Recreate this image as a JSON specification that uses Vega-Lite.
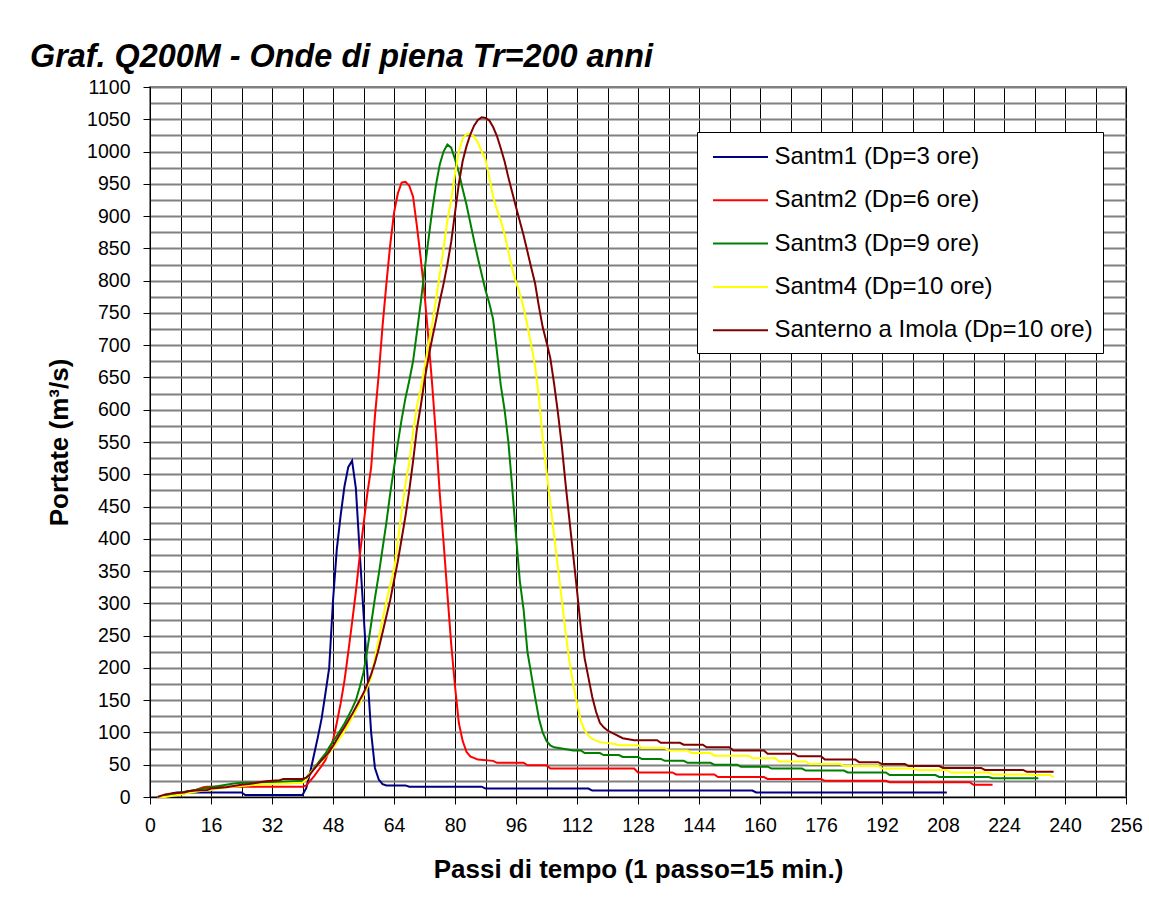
{
  "$schema": "https://vega.github.io/schema/vega-lite/v6.json",
  "autosize": "none",
  "width": 976,
  "height": 710,
  "padding": {"left": 150, "top": 87, "right": 23, "bottom": 124},
  "background": "white",
  "config": {
    "font": "Liberation Sans",
    "view": {"stroke": "#808080", "strokeWidth": 2}
  },
  "title": {
    "text": "Graf. Q200M - Onde di piena Tr=200 anni",
    "anchor": "start",
    "frame": "group",
    "font": "Liberation Sans",
    "fontSize": 32.4,
    "fontStyle": "italic",
    "fontWeight": "bold",
    "color": "black",
    "dx": -120,
    "dy": 40,
    "baseline": "alphabetic",
    "offset": 18
  },
  "data": {
    "values": [
      {"k":1,"x":2,"y":0},{"k":1,"x":4,"y":0},{"k":1,"x":5,"y":3},{"k":1,"x":6,"y":6},{"k":1,"x":7,"y":7},{"k":1,"x":24,"y":7},{"k":1,"x":25,"y":3},{"k":1,"x":40,"y":3},{"k":1,"x":41,"y":14},{"k":1,"x":42,"y":38},{"k":1,"x":43,"y":65},{"k":1,"x":44,"y":92},{"k":1,"x":45,"y":121},{"k":1,"x":46,"y":160},{"k":1,"x":47,"y":200},{"k":1,"x":48,"y":304},{"k":1,"x":49,"y":384},{"k":1,"x":50,"y":436},{"k":1,"x":51,"y":481},{"k":1,"x":52,"y":511},{"k":1,"x":53,"y":521},{"k":1,"x":54,"y":478},{"k":1,"x":55,"y":380},{"k":1,"x":56,"y":285},{"k":1,"x":57,"y":193},{"k":1,"x":58,"y":100},{"k":1,"x":59,"y":45},{"k":1,"x":60,"y":27},{"k":1,"x":61,"y":20},{"k":1,"x":62,"y":18},{"k":1,"x":67,"y":18},{"k":1,"x":68,"y":16},{"k":1,"x":87,"y":16},{"k":1,"x":88,"y":13},{"k":1,"x":115,"y":13},{"k":1,"x":116,"y":10},{"k":1,"x":158,"y":10},{"k":1,"x":159,"y":7},{"k":1,"x":209,"y":7},

      {"k":2,"x":2,"y":0},{"k":2,"x":4,"y":1},{"k":2,"x":6,"y":3},{"k":2,"x":8,"y":6},{"k":2,"x":10,"y":9},{"k":2,"x":12,"y":11},{"k":2,"x":14,"y":15},{"k":2,"x":15,"y":16},{"k":2,"x":40,"y":16},{"k":2,"x":41,"y":18},{"k":2,"x":42,"y":25},{"k":2,"x":43,"y":32},{"k":2,"x":44,"y":40},{"k":2,"x":45,"y":48},{"k":2,"x":46,"y":57},{"k":2,"x":47,"y":72},{"k":2,"x":48,"y":88},{"k":2,"x":49,"y":115},{"k":2,"x":50,"y":145},{"k":2,"x":51,"y":180},{"k":2,"x":52,"y":224},{"k":2,"x":53,"y":270},{"k":2,"x":54,"y":318},{"k":2,"x":55,"y":373},{"k":2,"x":56,"y":422},{"k":2,"x":57,"y":470},{"k":2,"x":58,"y":510},{"k":2,"x":59,"y":590},{"k":2,"x":60,"y":655},{"k":2,"x":61,"y":730},{"k":2,"x":62,"y":795},{"k":2,"x":63,"y":855},{"k":2,"x":64,"y":905},{"k":2,"x":65,"y":935},{"k":2,"x":66,"y":952},{"k":2,"x":67,"y":953},{"k":2,"x":68,"y":947},{"k":2,"x":69,"y":930},{"k":2,"x":70,"y":885},{"k":2,"x":71,"y":835},{"k":2,"x":72,"y":780},{"k":2,"x":73,"y":712},{"k":2,"x":74,"y":640},{"k":2,"x":75,"y":560},{"k":2,"x":76,"y":470},{"k":2,"x":77,"y":395},{"k":2,"x":78,"y":315},{"k":2,"x":79,"y":237},{"k":2,"x":80,"y":172},{"k":2,"x":81,"y":115},{"k":2,"x":82,"y":87},{"k":2,"x":83,"y":70},{"k":2,"x":84,"y":63},{"k":2,"x":86,"y":58},{"k":2,"x":90,"y":56},{"k":2,"x":91,"y":53},{"k":2,"x":98,"y":53},{"k":2,"x":99,"y":49},{"k":2,"x":104,"y":49},{"k":2,"x":105,"y":44},{"k":2,"x":127,"y":44},{"k":2,"x":128,"y":38},{"k":2,"x":137,"y":38},{"k":2,"x":138,"y":35},{"k":2,"x":148,"y":35},{"k":2,"x":149,"y":31},{"k":2,"x":161,"y":31},{"k":2,"x":162,"y":28},{"k":2,"x":176,"y":28},{"k":2,"x":177,"y":25},{"k":2,"x":193,"y":25},{"k":2,"x":194,"y":23},{"k":2,"x":215,"y":23},{"k":2,"x":216,"y":19},{"k":2,"x":221,"y":19},

      {"k":3,"x":2,"y":0},{"k":3,"x":4,"y":1},{"k":3,"x":6,"y":4},{"k":3,"x":8,"y":7},{"k":3,"x":10,"y":9},{"k":3,"x":12,"y":11},{"k":3,"x":14,"y":13},{"k":3,"x":16,"y":15},{"k":3,"x":18,"y":17},{"k":3,"x":20,"y":19},{"k":3,"x":22,"y":21},{"k":3,"x":24,"y":22},{"k":3,"x":30,"y":23},{"k":3,"x":36,"y":24},{"k":3,"x":40,"y":25},{"k":3,"x":41,"y":30},{"k":3,"x":42,"y":37},{"k":3,"x":43,"y":45},{"k":3,"x":44,"y":52},{"k":3,"x":45,"y":60},{"k":3,"x":46,"y":67},{"k":3,"x":47,"y":77},{"k":3,"x":48,"y":86},{"k":3,"x":49,"y":95},{"k":3,"x":50,"y":104},{"k":3,"x":51,"y":114},{"k":3,"x":52,"y":125},{"k":3,"x":53,"y":137},{"k":3,"x":54,"y":150},{"k":3,"x":55,"y":170},{"k":3,"x":56,"y":193},{"k":3,"x":57,"y":228},{"k":3,"x":58,"y":268},{"k":3,"x":59,"y":308},{"k":3,"x":60,"y":345},{"k":3,"x":61,"y":385},{"k":3,"x":62,"y":425},{"k":3,"x":63,"y":470},{"k":3,"x":64,"y":510},{"k":3,"x":65,"y":548},{"k":3,"x":66,"y":585},{"k":3,"x":67,"y":618},{"k":3,"x":68,"y":645},{"k":3,"x":69,"y":675},{"k":3,"x":70,"y":720},{"k":3,"x":71,"y":765},{"k":3,"x":72,"y":815},{"k":3,"x":73,"y":862},{"k":3,"x":74,"y":908},{"k":3,"x":75,"y":948},{"k":3,"x":76,"y":980},{"k":3,"x":77,"y":1000},{"k":3,"x":78,"y":1011},{"k":3,"x":79,"y":1006},{"k":3,"x":80,"y":988},{"k":3,"x":81,"y":968},{"k":3,"x":82,"y":942},{"k":3,"x":83,"y":918},{"k":3,"x":84,"y":890},{"k":3,"x":85,"y":862},{"k":3,"x":86,"y":835},{"k":3,"x":87,"y":810},{"k":3,"x":88,"y":785},{"k":3,"x":89,"y":765},{"k":3,"x":90,"y":740},{"k":3,"x":91,"y":690},{"k":3,"x":92,"y":638},{"k":3,"x":93,"y":600},{"k":3,"x":94,"y":550},{"k":3,"x":95,"y":480},{"k":3,"x":96,"y":405},{"k":3,"x":97,"y":335},{"k":3,"x":98,"y":290},{"k":3,"x":99,"y":225},{"k":3,"x":100,"y":190},{"k":3,"x":101,"y":155},{"k":3,"x":102,"y":122},{"k":3,"x":103,"y":100},{"k":3,"x":104,"y":87},{"k":3,"x":105,"y":80},{"k":3,"x":106,"y":77},{"k":3,"x":108,"y":75},{"k":3,"x":111,"y":72},{"k":3,"x":113,"y":72},{"k":3,"x":114,"y":68},{"k":3,"x":118,"y":68},{"k":3,"x":119,"y":65},{"k":3,"x":123,"y":65},{"k":3,"x":124,"y":62},{"k":3,"x":128,"y":62},{"k":3,"x":129,"y":59},{"k":3,"x":134,"y":59},{"k":3,"x":135,"y":56},{"k":3,"x":140,"y":56},{"k":3,"x":141,"y":53},{"k":3,"x":147,"y":53},{"k":3,"x":148,"y":50},{"k":3,"x":154,"y":50},{"k":3,"x":155,"y":47},{"k":3,"x":162,"y":47},{"k":3,"x":163,"y":44},{"k":3,"x":171,"y":44},{"k":3,"x":172,"y":41},{"k":3,"x":182,"y":41},{"k":3,"x":183,"y":38},{"k":3,"x":193,"y":38},{"k":3,"x":194,"y":34},{"k":3,"x":206,"y":34},{"k":3,"x":207,"y":31},{"k":3,"x":220,"y":31},{"k":3,"x":221,"y":29},{"k":3,"x":233,"y":29},

      {"k":4,"x":2,"y":0},{"k":4,"x":4,"y":0},{"k":4,"x":6,"y":2},{"k":4,"x":8,"y":4},{"k":4,"x":10,"y":6},{"k":4,"x":12,"y":8},{"k":4,"x":14,"y":10},{"k":4,"x":16,"y":11},{"k":4,"x":18,"y":13},{"k":4,"x":20,"y":15},{"k":4,"x":22,"y":16},{"k":4,"x":24,"y":17},{"k":4,"x":28,"y":19},{"k":4,"x":32,"y":20},{"k":4,"x":36,"y":21},{"k":4,"x":40,"y":22},{"k":4,"x":41,"y":27},{"k":4,"x":42,"y":37},{"k":4,"x":43,"y":44},{"k":4,"x":44,"y":50},{"k":4,"x":45,"y":56},{"k":4,"x":46,"y":62},{"k":4,"x":47,"y":68},{"k":4,"x":48,"y":76},{"k":4,"x":49,"y":84},{"k":4,"x":50,"y":93},{"k":4,"x":51,"y":102},{"k":4,"x":52,"y":112},{"k":4,"x":53,"y":123},{"k":4,"x":54,"y":134},{"k":4,"x":55,"y":145},{"k":4,"x":56,"y":157},{"k":4,"x":57,"y":170},{"k":4,"x":58,"y":185},{"k":4,"x":59,"y":215},{"k":4,"x":60,"y":245},{"k":4,"x":61,"y":275},{"k":4,"x":62,"y":303},{"k":4,"x":63,"y":328},{"k":4,"x":64,"y":352},{"k":4,"x":65,"y":395},{"k":4,"x":66,"y":442},{"k":4,"x":67,"y":485},{"k":4,"x":68,"y":518},{"k":4,"x":69,"y":565},{"k":4,"x":70,"y":605},{"k":4,"x":71,"y":632},{"k":4,"x":72,"y":665},{"k":4,"x":73,"y":700},{"k":4,"x":74,"y":732},{"k":4,"x":75,"y":770},{"k":4,"x":76,"y":810},{"k":4,"x":77,"y":850},{"k":4,"x":78,"y":893},{"k":4,"x":79,"y":925},{"k":4,"x":80,"y":965},{"k":4,"x":81,"y":1000},{"k":4,"x":82,"y":1020},{"k":4,"x":83,"y":1027},{"k":4,"x":84,"y":1028},{"k":4,"x":85,"y":1023},{"k":4,"x":86,"y":1014},{"k":4,"x":87,"y":1000},{"k":4,"x":88,"y":988},{"k":4,"x":89,"y":960},{"k":4,"x":90,"y":930},{"k":4,"x":91,"y":910},{"k":4,"x":92,"y":893},{"k":4,"x":93,"y":872},{"k":4,"x":94,"y":845},{"k":4,"x":95,"y":818},{"k":4,"x":96,"y":798},{"k":4,"x":97,"y":780},{"k":4,"x":98,"y":758},{"k":4,"x":99,"y":730},{"k":4,"x":100,"y":700},{"k":4,"x":101,"y":668},{"k":4,"x":102,"y":620},{"k":4,"x":103,"y":555},{"k":4,"x":104,"y":505},{"k":4,"x":105,"y":455},{"k":4,"x":106,"y":405},{"k":4,"x":107,"y":355},{"k":4,"x":108,"y":307},{"k":4,"x":109,"y":255},{"k":4,"x":110,"y":210},{"k":4,"x":111,"y":175},{"k":4,"x":112,"y":145},{"k":4,"x":113,"y":118},{"k":4,"x":114,"y":103},{"k":4,"x":115,"y":95},{"k":4,"x":116,"y":90},{"k":4,"x":118,"y":85},{"k":4,"x":122,"y":82},{"k":4,"x":123,"y":80},{"k":4,"x":128,"y":80},{"k":4,"x":129,"y":76},{"k":4,"x":135,"y":76},{"k":4,"x":136,"y":72},{"k":4,"x":141,"y":72},{"k":4,"x":142,"y":68},{"k":4,"x":147,"y":68},{"k":4,"x":148,"y":64},{"k":4,"x":157,"y":64},{"k":4,"x":158,"y":60},{"k":4,"x":164,"y":60},{"k":4,"x":165,"y":55},{"k":4,"x":172,"y":55},{"k":4,"x":173,"y":51},{"k":4,"x":181,"y":51},{"k":4,"x":182,"y":48},{"k":4,"x":191,"y":48},{"k":4,"x":192,"y":44},{"k":4,"x":200,"y":44},{"k":4,"x":201,"y":42},{"k":4,"x":209,"y":42},{"k":4,"x":210,"y":38},{"k":4,"x":220,"y":38},{"k":4,"x":221,"y":35},{"k":4,"x":231,"y":35},{"k":4,"x":232,"y":34},{"k":4,"x":236,"y":34},{"k":4,"x":237,"y":31},

      {"k":5,"x":2,"y":0},{"k":5,"x":4,"y":4},{"k":5,"x":6,"y":6},{"k":5,"x":9,"y":7},{"k":5,"x":10,"y":9},{"k":5,"x":12,"y":10},{"k":5,"x":15,"y":11},{"k":5,"x":16,"y":13},{"k":5,"x":20,"y":15},{"k":5,"x":22,"y":17},{"k":5,"x":24,"y":19},{"k":5,"x":26,"y":20},{"k":5,"x":28,"y":22},{"k":5,"x":30,"y":24},{"k":5,"x":32,"y":25},{"k":5,"x":34,"y":26},{"k":5,"x":35,"y":28},{"k":5,"x":40,"y":28},{"k":5,"x":41,"y":30},{"k":5,"x":42,"y":35},{"k":5,"x":43,"y":43},{"k":5,"x":44,"y":50},{"k":5,"x":45,"y":57},{"k":5,"x":46,"y":63},{"k":5,"x":47,"y":70},{"k":5,"x":48,"y":79},{"k":5,"x":49,"y":89},{"k":5,"x":50,"y":99},{"k":5,"x":51,"y":108},{"k":5,"x":52,"y":118},{"k":5,"x":53,"y":128},{"k":5,"x":54,"y":139},{"k":5,"x":55,"y":150},{"k":5,"x":56,"y":161},{"k":5,"x":57,"y":175},{"k":5,"x":58,"y":190},{"k":5,"x":59,"y":208},{"k":5,"x":60,"y":230},{"k":5,"x":61,"y":255},{"k":5,"x":62,"y":280},{"k":5,"x":63,"y":305},{"k":5,"x":64,"y":335},{"k":5,"x":65,"y":365},{"k":5,"x":66,"y":400},{"k":5,"x":67,"y":435},{"k":5,"x":68,"y":475},{"k":5,"x":69,"y":520},{"k":5,"x":70,"y":570},{"k":5,"x":71,"y":605},{"k":5,"x":72,"y":645},{"k":5,"x":73,"y":680},{"k":5,"x":74,"y":710},{"k":5,"x":75,"y":738},{"k":5,"x":76,"y":768},{"k":5,"x":77,"y":795},{"k":5,"x":78,"y":825},{"k":5,"x":79,"y":860},{"k":5,"x":80,"y":905},{"k":5,"x":81,"y":950},{"k":5,"x":82,"y":985},{"k":5,"x":83,"y":1008},{"k":5,"x":84,"y":1026},{"k":5,"x":85,"y":1040},{"k":5,"x":86,"y":1049},{"k":5,"x":87,"y":1053},{"k":5,"x":88,"y":1052},{"k":5,"x":89,"y":1048},{"k":5,"x":90,"y":1038},{"k":5,"x":91,"y":1024},{"k":5,"x":92,"y":1005},{"k":5,"x":93,"y":985},{"k":5,"x":94,"y":960},{"k":5,"x":95,"y":937},{"k":5,"x":96,"y":914},{"k":5,"x":97,"y":892},{"k":5,"x":98,"y":870},{"k":5,"x":99,"y":845},{"k":5,"x":100,"y":820},{"k":5,"x":101,"y":796},{"k":5,"x":102,"y":760},{"k":5,"x":103,"y":728},{"k":5,"x":104,"y":705},{"k":5,"x":105,"y":680},{"k":5,"x":106,"y":640},{"k":5,"x":107,"y":595},{"k":5,"x":108,"y":545},{"k":5,"x":109,"y":485},{"k":5,"x":110,"y":430},{"k":5,"x":111,"y":375},{"k":5,"x":112,"y":320},{"k":5,"x":113,"y":262},{"k":5,"x":114,"y":215},{"k":5,"x":115,"y":185},{"k":5,"x":116,"y":155},{"k":5,"x":117,"y":132},{"k":5,"x":118,"y":115},{"k":5,"x":119,"y":108},{"k":5,"x":120,"y":103},{"k":5,"x":122,"y":97},{"k":5,"x":124,"y":91},{"k":5,"x":127,"y":88},{"k":5,"x":133,"y":88},{"k":5,"x":134,"y":84},{"k":5,"x":139,"y":84},{"k":5,"x":140,"y":81},{"k":5,"x":145,"y":81},{"k":5,"x":146,"y":77},{"k":5,"x":152,"y":77},{"k":5,"x":153,"y":72},{"k":5,"x":161,"y":72},{"k":5,"x":162,"y":67},{"k":5,"x":169,"y":67},{"k":5,"x":170,"y":63},{"k":5,"x":176,"y":63},{"k":5,"x":177,"y":58},{"k":5,"x":185,"y":58},{"k":5,"x":186,"y":54},{"k":5,"x":191,"y":54},{"k":5,"x":192,"y":51},{"k":5,"x":198,"y":51},{"k":5,"x":199,"y":48},{"k":5,"x":207,"y":48},{"k":5,"x":208,"y":45},{"k":5,"x":218,"y":45},{"k":5,"x":219,"y":42},{"k":5,"x":229,"y":42},{"k":5,"x":230,"y":39},{"k":5,"x":237,"y":39}
    ]
  },
  "transform": [
    {
      "lookup": "k",
      "from": {
        "data": {
          "values": [
            {"k": 1, "serie": "Santm1 (Dp=3 ore)"},
            {"k": 2, "serie": "Santm2 (Dp=6 ore)"},
            {"k": 3, "serie": "Santm3 (Dp=9 ore)"},
            {"k": 4, "serie": "Santm4 (Dp=10 ore)"},
            {"k": 5, "serie": "Santerno a Imola (Dp=10 ore)"}
          ]
        },
        "key": "k",
        "fields": ["serie"]
      }
    }
  ],
  "mark": {"type": "line", "strokeWidth": 2},
  "encoding": {
    "x": {
      "field": "x",
      "type": "quantitative",
      "scale": {"domain": [0, 256], "nice": false},
      "axis": {
        "values": [0,8,16,24,32,40,48,56,64,72,80,88,96,104,112,120,128,136,144,152,160,168,176,184,192,200,208,216,224,232,240,248,256],
        "format": "d",
        "labelExpr": "datum.value % 16 == 0 ? datum.label : ''",
        "labelOverlap": false,
        "labelFlush": false,
        "labelFontSize": 19.5,
        "labelColor": "black",
        "labelPadding": 12,
        "tickSize": 7,
        "tickColor": "black",
        "tickOpacity": {"condition": {"test": "datum.value % 16 == 0", "value": 1}, "value": 0},
        "domainColor": "black",
        "domainWidth": 1,
        "gridColor": "black",
        "gridWidth": 1,
        "gridOpacity": 1,
        "title": "Passi di tempo (1 passo=15 min.)",
        "titleFontSize": 26,
        "titleFontWeight": "bold",
        "titleColor": "black",
        "titlePadding": 22
      }
    },
    "y": {
      "field": "y",
      "type": "quantitative",
      "scale": {"domain": [0, 1100], "nice": false},
      "axis": {
        "values": [0,25,50,75,100,125,150,175,200,225,250,275,300,325,350,375,400,425,450,475,500,525,550,575,600,625,650,675,700,725,750,775,800,825,850,875,900,925,950,975,1000,1025,1050,1075,1100],
        "format": "d",
        "labelExpr": "datum.value % 50 == 0 ? datum.label : ''",
        "labelOverlap": false,
        "labelFlush": false,
        "labelFontSize": 19.5,
        "labelColor": "black",
        "labelPadding": 13,
        "tickSize": 7,
        "tickColor": "black",
        "tickOpacity": {"condition": {"test": "datum.value % 50 == 0", "value": 1}, "value": 0},
        "domainColor": "black",
        "domainWidth": 1,
        "gridColor": "#808080",
        "gridWidth": 2,
        "gridOpacity": 1,
        "title": "Portate (m³/s)",
        "titleFontSize": 26,
        "titleFontWeight": "bold",
        "titleColor": "black",
        "titlePadding": 14
      }
    },
    "color": {
      "field": "serie",
      "type": "nominal",
      "scale": {
        "domain": ["Santm1 (Dp=3 ore)", "Santm2 (Dp=6 ore)", "Santm3 (Dp=9 ore)", "Santm4 (Dp=10 ore)", "Santerno a Imola (Dp=10 ore)"],
        "range": ["#000080", "#FF0000", "#008000", "#FFFF00", "#800000"]
      },
      "legend": {
        "orient": "none",
        "legendX": 547,
        "legendY": 45,
        "title": null,
        "fillColor": "white",
        "strokeColor": "black",
        "padding": 10,
        "symbolType": "M-2,0H2",
        "symbolSize": 756,
        "symbolOffset": 18.5,
        "symbolStrokeWidth": 2,
        "labelFontSize": 24,
        "labelColor": "black",
        "labelOffset": 19,
        "labelLimit": 500,
        "rowPadding": 16.3
      }
    }
  }
}
